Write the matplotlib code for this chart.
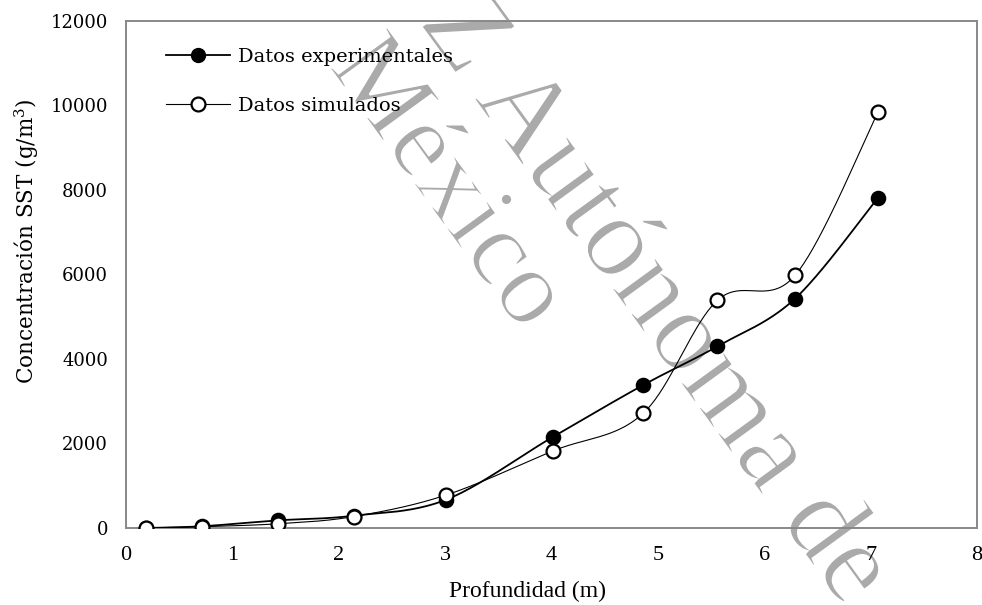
import numpy as np
import matplotlib
matplotlib.use('Agg')
from matplotlib import pyplot as plt
from matplotlib import patheffects

plt.rcParams['font.family'] = ['DejaVu Serif']
plt.rcParams['mathtext.fontset'] = 'dejavuserif'

# depth (m) and suspended solids concentration (g/m3)
profundidad = [0.19, 0.71, 1.43, 2.14, 3.01, 4.01, 4.86, 5.56, 6.29, 7.07]
experimentales = [0, 40, 180, 290, 670, 2150, 3380, 4300, 5430, 7820]
simulados = [0, 30, 100, 270, 780, 1820, 2710, 5390, 5980, 9850]

x_ticks = [0, 1, 2, 3, 4, 5, 6, 7, 8]
y_ticks = [0, 2000, 4000, 6000, 8000, 10000, 12000]


def smooth_curve(x, y, n=40):
    # Catmull-Rom style bezier smoothing, like spreadsheet "smoothed lines"
    p = np.column_stack([x, y]).astype(float)
    p_ext = np.vstack([p[0], p, p[-1]])
    t = np.linspace(0, 1, n)[:, None]
    out = []
    for i in range(len(p) - 1):
        p0, p1, p2, p3 = p_ext[i], p_ext[i + 1], p_ext[i + 2], p_ext[i + 3]
        c1 = p1 + (p2 - p0) / 6
        c2 = p2 - (p3 - p1) / 6
        seg = ((1 - t) ** 3) * p1 + 3 * ((1 - t) ** 2) * t * c1 + 3 * (1 - t) * t ** 2 * c2 + t ** 3 * p2
        out.append(seg if i == 0 else seg[1:])
    out = np.vstack(out)
    return out[:, 0], out[:, 1]


fig = plt.figure(figsize=(9.82, 6.05), dpi=100)
ax = fig.add_axes([0.1283, 0.1273, 0.8666, 0.838])
ax.patch.set_alpha(0)

# watermark behind everything, thin white edge keeps the strokes light
thin = [patheffects.PathPatchEffect(facecolor='#aaaaaa', edgecolor='white', linewidth=1.6)]
wm = dict(color='#aaaaaa', family='Liberation Serif', path_effects=thin,
          rotation=-54, rotation_mode='anchor', ha='left', va='baseline', zorder=-5)
fig.text(418 / 982, 1 - 22 / 605, 'Z Autónoma de', fontsize=84, **wm)
fig.text(328 / 982, 1 - 66 / 605, 'México', fontsize=78, **wm)

xs, ys = smooth_curve(profundidad, experimentales)
ax.plot(xs, ys, color='black', lw=1.3, zorder=3)
ax.plot(profundidad, experimentales, 'o', ms=10, mfc='black', mec='black', mew=1.2, zorder=4)

xs, ys = smooth_curve(profundidad, simulados)
ax.plot(xs, ys, color='black', lw=0.8, zorder=3)
ax.plot(profundidad, simulados, 'o', ms=10, mfc='white', mec='black', mew=1.6, zorder=5)

# legend handles combine line and marker
h1, = ax.plot([], [], '-o', color='black', lw=1.3, ms=10, mfc='black', mec='black')
h2, = ax.plot([], [], '-o', color='black', lw=0.8, ms=10, mfc='white', mec='black', mew=1.6)
ax.legend([h1, h2], ['Datos experimentales', 'Datos simulados'], loc='upper left',
          bbox_to_anchor=(0.026, 0.982), frameon=False, fontsize=14, handlelength=3.3,
          labelspacing=1.6, handletextpad=0.4)

ax.set_xlim(0, 8)
ax.set_ylim(0, 12000)
ax.set_xticks(x_ticks)
ax.set_xticklabels([str(v) for v in x_ticks], fontsize=16, family='Liberation Serif')
ax.set_yticks(y_ticks)
ax.tick_params(axis='y', length=0, labelsize=13, pad=13)
ax.tick_params(axis='x', length=0, pad=13)
for s in ax.spines.values():
    s.set_color('#888888')
    s.set_linewidth(1.4)

ax.set_xlabel('Profundidad (m)', fontsize=17, family='Liberation Serif')
ax.xaxis.set_label_coords(0.472, -0.104, transform=ax.transAxes)
ax.set_ylabel(r'Concentración SST (g/m$^{3}$)', fontsize=15.5)
ax.yaxis.set_label_coords(-0.1, 0.565, transform=ax.transAxes)

fig.savefig('out.png', dpi=100)
